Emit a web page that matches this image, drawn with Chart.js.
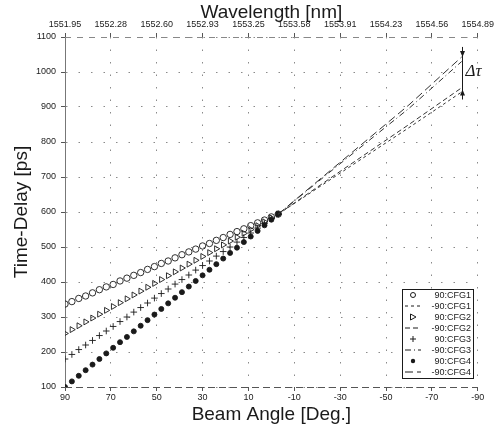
<!DOCTYPE html>
<html>
<head>
<meta charset="utf-8">
<script src="https://cdn.jsdelivr.net/npm/chart.js@4.4.1/dist/chart.umd.min.js"></script>
<style>
  html, body { margin: 0; padding: 0; background: #fff; }
  #wrap { width: 497px; height: 430px; }
</style>
</head>
<body>
<div id="wrap"><canvas id="delayChart" width="497" height="430"></canvas></div>
<script>
// beam angle samples for the 90 -> 0 sweeps
const angles = [90, 87, 84, 81, 78, 75, 72, 69, 66, 63, 60, 57, 54, 51, 48, 45,
                42, 39, 36, 33, 30, 27, 24, 21, 18, 15, 12, 9, 6, 3, 0, -3];
const cfg1 = [337, 344, 353, 360, 369, 378, 386, 393, 403, 411, 419, 427, 436, 444, 453, 460,
              469, 478, 486, 494, 503, 510, 519, 527, 536, 544, 552, 561, 569, 577, 586, 594];
const cfg2 = [253, 264, 275, 286, 297, 308, 319, 330, 341, 352, 363, 374, 385, 396, 407, 418,
              429, 440, 451, 462, 473, 484, 495, 506, 517, 528, 539, 550, 561, 572, 583, 594];
const cfg3 = [180, 193, 207, 220, 233, 247, 260, 273, 287, 300, 314, 327, 340, 354, 367, 380,
              394, 407, 420, 434, 447, 460, 474, 487, 500, 514, 527, 540, 554, 567, 581, 594];
const cfg4 = [100, 116, 132, 148, 164, 180, 196, 212, 228, 243, 259, 275, 291, 307, 323, 339,
              355, 371, 387, 403, 419, 435, 451, 467, 483, 498, 514, 530, 546, 562, 578, 594];

// 0 -> -90 sweeps (dashed)
const tailAngles = [-3, -30, -60, -83];
const tail1 = [594, 711, 841, 943];
const tail2 = [594, 716, 850, 955];
const tail3 = [594, 738, 896, 1030];
const tail4 = [594, 742, 906, 1043];

const xTicks = [90, 70, 50, 30, 10, -10, -30, -50, -70, -90];
const wavelengthLabels = ['1551.95', '1552.28', '1552.60', '1552.93', '1553.25',
                          '1553.58', '1553.91', '1554.23', '1554.56', '1554.89'];
const legendLabels = ['90:CFG1', '-90:CFG1', '90:CFG2', '-90:CFG2',
                      '90:CFG3', '-90:CFG3', '90:CFG4', '-90:CFG4'];

const FONT = "'Liberation Sans', Arial, sans-serif";
const INK = '#1a1a1a';

function pts(xs, ys) {
    return xs.map((x, i) => ({ x: x, y: ys[i] }));
}

function markerSet(label, ys, style, extra) {
    return Object.assign({
        label: label,
        data: pts(angles, ys),
        showLine: false,
        pointStyle: style,
        pointRadius: 3.2,
        pointBorderWidth: 0.9,
        borderColor: INK,
        backgroundColor: 'rgba(0,0,0,0)'
    }, extra || {});
}

function tailSet(label, ys, dash) {
    return {
        label: label,
        data: pts(tailAngles, ys),
        showLine: true,
        pointRadius: 0,
        borderWidth: 1,
        borderColor: '#333',
        borderDash: dash
    };
}

const datasets = [
    markerSet(legendLabels[0], cfg1, 'circle'),
    tailSet(legendLabels[1], tail1, [3, 3]),
    markerSet(legendLabels[2], cfg2, 'triangle', { rotation: 90, pointRadius: 3.4 }),
    tailSet(legendLabels[3], tail2, [5, 3]),
    markerSet(legendLabels[4], cfg3, 'cross', { pointRadius: 3.3 }),
    tailSet(legendLabels[5], tail3, [6, 3, 1, 3]),
    markerSet(legendLabels[6], cfg4, 'circle', { pointRadius: 2.5, backgroundColor: INK }),
    tailSet(legendLabels[7], tail4, [8, 4])
];

// dashed frame top/bottom like the scanned plot
const framePlugin = {
    id: 'frame',
    beforeDatasetsDraw(chart) {
        const { ctx, chartArea: a } = chart;
        ctx.save();
        ctx.lineWidth = 1;
        ctx.strokeStyle = '#555';
        ctx.setLineDash([7, 4]);
        ctx.beginPath();
        ctx.moveTo(a.left, a.bottom + 0.5);
        ctx.lineTo(a.right, a.bottom + 0.5);
        ctx.stroke();
        ctx.strokeStyle = '#888';
        ctx.setLineDash([6, 6]);
        ctx.beginPath();
        ctx.moveTo(a.left, a.top + 0.5);
        ctx.lineTo(a.right, a.top + 0.5);
        ctx.stroke();
        ctx.restore();
    }
};

function drawSymbol(ctx, ds, x, y) {
    ctx.save();
    ctx.strokeStyle = INK;
    ctx.fillStyle = INK;
    ctx.lineWidth = 1;
    if (ds.showLine) {
        ctx.setLineDash(ds.borderDash || []);
        ctx.beginPath();
        ctx.moveTo(x - 8, y);
        ctx.lineTo(x + 8, y);
        ctx.stroke();
    } else if (ds.pointStyle === 'triangle') {
        ctx.beginPath();
        ctx.moveTo(x - 2.5, y - 3);
        ctx.lineTo(x + 3, y);
        ctx.lineTo(x - 2.5, y + 3);
        ctx.closePath();
        ctx.stroke();
    } else if (ds.pointStyle === 'cross') {
        ctx.beginPath();
        ctx.moveTo(x - 3, y);
        ctx.lineTo(x + 3, y);
        ctx.moveTo(x, y - 3);
        ctx.lineTo(x, y + 3);
        ctx.stroke();
    } else if (ds.backgroundColor === INK) {
        ctx.beginPath();
        ctx.arc(x, y, 2.2, 0, Math.PI * 2);
        ctx.fill();
    } else {
        ctx.beginPath();
        ctx.arc(x, y, 2.5, 0, Math.PI * 2);
        ctx.stroke();
    }
    ctx.restore();
}

const boxLegendPlugin = {
    id: 'boxLegend',
    afterDraw(chart) {
        const { ctx } = chart;
        const left = 402, top = 289, w = 71, rowH = 11;
        const h = rowH * chart.data.datasets.length + 1;
        ctx.save();
        ctx.fillStyle = '#fff';
        ctx.fillRect(left, top, w, h);
        ctx.strokeStyle = INK;
        ctx.lineWidth = 1;
        ctx.strokeRect(left + 0.5, top + 0.5, w, h);
        ctx.font = '9px ' + FONT;
        ctx.textAlign = 'right';
        ctx.textBaseline = 'middle';
        chart.data.datasets.forEach((ds, i) => {
            const y = top + 6 + i * rowH;
            drawSymbol(ctx, ds, left + 11, y);
            ctx.fillStyle = INK;
            ctx.fillText(ds.label, left + w - 2, y + 0.5);
        });
        ctx.restore();
    }
};

// delta tau marker at the -90 end
const deltaPlugin = {
    id: 'deltaTau',
    afterDatasetsDraw(chart) {
        const { ctx } = chart;
        const xs = chart.scales.x, ys = chart.scales.y;
        const x = Math.round(xs.getPixelForValue(-83)) + 0.5;
        const yTop = ys.getPixelForValue(1043);
        const yBot = ys.getPixelForValue(950);
        ctx.save();
        ctx.strokeStyle = INK;
        ctx.fillStyle = INK;
        ctx.lineWidth = 1;
        ctx.beginPath();
        ctx.moveTo(x, yTop - 10);
        ctx.lineTo(x, yBot + 10);
        ctx.stroke();
        ctx.beginPath();
        ctx.moveTo(x, yTop);
        ctx.lineTo(x - 2.5, yTop - 6);
        ctx.lineTo(x + 2.5, yTop - 6);
        ctx.closePath();
        ctx.moveTo(x, yBot);
        ctx.lineTo(x - 2.5, yBot + 6);
        ctx.lineTo(x + 2.5, yBot + 6);
        ctx.closePath();
        ctx.fill();
        ctx.font = 'italic 17px "Liberation Serif", "DejaVu Serif", serif';
        ctx.textAlign = 'left';
        ctx.textBaseline = 'middle';
        ctx.fillText('\u0394\u03c4', x + 3, (yTop + yBot) / 2 - 2);
        ctx.restore();
    }
};

const setTicks = scale => { scale.ticks = xTicks.map(v => ({ value: v })); };

new Chart(document.getElementById('delayChart'), {
    type: 'scatter',
    data: { datasets: datasets },
    plugins: [framePlugin, deltaPlugin, boxLegendPlugin],
    options: {
        responsive: false,
        animation: false,
        devicePixelRatio: 1,
        layout: { padding: { left: 0, right: 16, top: 0, bottom: 0 } },
        plugins: { legend: { display: false }, tooltip: { enabled: false } },
        scales: {
            x: {
                type: 'linear',
                position: 'bottom',
                min: -90,
                max: 90,
                reverse: true,
                afterBuildTicks: setTicks,
                afterFit: s => { s.height = 43; },
                ticks: { color: INK, font: { family: FONT, size: 9 }, padding: 1, maxRotation: 0,
                         callback: v => String(v) },
                grid: { color: '#8a8a8a', lineWidth: 1, tickLength: 4, tickColor: '#555' },
                border: { display: false, dash: [1.5, 11] },
                title: {
                    display: true, text: 'Beam Angle [Deg.]', color: INK,
                    font: { family: FONT, size: 19 }, padding: { top: 0, bottom: 4 }
                }
            },
            x2: {
                type: 'linear',
                position: 'top',
                min: -90,
                max: 90,
                reverse: true,
                afterBuildTicks: setTicks,
                afterFit: s => { s.height = 37; },
                ticks: {
                    color: INK, font: { family: FONT, size: 9 }, padding: 3, maxRotation: 0,
                    callback: v => wavelengthLabels[xTicks.indexOf(v)]
                },
                grid: { drawOnChartArea: false, tickLength: 4, tickColor: '#555' },
                border: { display: false },
                title: {
                    display: true, text: 'Wavelength [nm]', color: INK,
                    font: { family: FONT, size: 19 }, padding: { top: 1, bottom: 0 }
                }
            },
            y: {
                type: 'linear',
                min: 100,
                max: 1100,
                afterFit: s => { s.width = 65; },
                ticks: { stepSize: 100, color: INK, font: { family: FONT, size: 9 }, padding: 5,
                         callback: v => String(v) },
                grid: { color: '#8a8a8a', lineWidth: 1, tickLength: 4, tickColor: '#555' },
                border: { display: true, color: '#777', width: 1, dash: [1.5, 11] },
                title: {
                    display: true, text: 'Time-Delay [ps]', color: INK,
                    font: { family: FONT, size: 19 }, padding: { top: 10, bottom: 0 }
                }
            }
        }
    }
});
</script>
</body>
</html>
